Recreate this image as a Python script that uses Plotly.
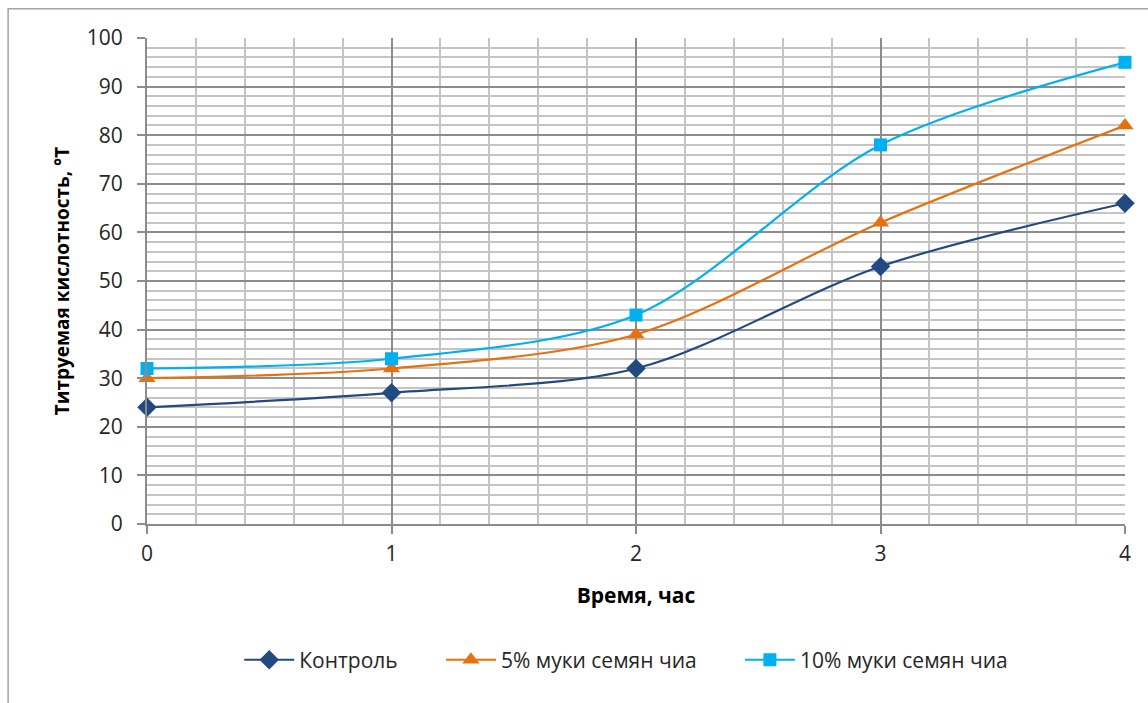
import plotly.graph_objects as go

hours = [0, 1, 2, 3, 4]
control = [24, 27, 32, 53, 66]
chia5 = [30, 32, 39, 62, 82]
chia10 = [32, 34, 43, 78, 95]

names = ["Контроль", "5% муки семян чиа", "10% муки семян чиа"]
colors = ["#234A80", "#E8700E", "#00B0F0"]
symbols = ["diamond", "triangle-up", "square"]
sizes = [15, 15, 13]
series = [control, chia5, chia10]

FONT = "Open Sans"
PAD = "\u00a0" * 7

fig = go.Figure()
for i, (name, vals, col, sym, sz) in enumerate(zip(names, series, colors, symbols, sizes)):
    fig.add_trace(go.Scatter(
        x=hours, y=vals, name=name + (PAD if i < 2 else ""), mode="lines+markers",
        line=dict(color=col, width=2.2, shape="spline", smoothing=0.9),
        marker=dict(symbol=sym, size=sz, color=col),
        cliponaxis=False,
    ))

fig.update_layout(
    width=1148, height=703,
    margin=dict(l=147, r=23, t=38, b=179),
    paper_bgcolor="white", plot_bgcolor="white",
    font=dict(family=FONT, size=21, color="#262626"),
    showlegend=True,
    legend=dict(orientation="h", x=0.49, xanchor="center", y=-0.28, yanchor="middle",
                font=dict(size=21, family=FONT, color="#262626"),
                itemwidth=50, tracegroupgap=0),
    shapes=[dict(type="rect", xref="paper", yref="paper", x0=-0.142, x1=1.2, y0=-0.56, y1=1.06,
                 line=dict(color="#A6A69A", width=1.5), layer="below")],
)

fig.update_xaxes(
    range=[0, 4], dtick=1, tick0=0,
    showgrid=True, gridcolor="#8C8C8C", gridwidth=2,
    minor=dict(dtick=0.2, showgrid=True, gridcolor="#C4C4C4", gridwidth=2),
    showline=True, linecolor="#8C8C8C", linewidth=2,
    ticks="outside", ticklen=8, tickcolor="#8C8C8C", tickwidth=2,
    tickfont=dict(size=21, family=FONT, color="#262626"),
    ticklabelstandoff=2,
    zeroline=False,
    title=dict(text="<b>Время, час</b>", font=dict(size=21, family=FONT, color="#000000"), standoff=22),
)
fig.update_yaxes(
    range=[0, 100], dtick=10,
    showgrid=True, gridcolor="#8C8C8C", gridwidth=2,
    minor=dict(dtick=2, showgrid=True, gridcolor="#C4C4C4", gridwidth=2),
    showline=True, linecolor="#8C8C8C", linewidth=2,
    ticks="outside", ticklen=8, tickcolor="#8C8C8C", tickwidth=2,
    tickfont=dict(size=21, family=FONT, color="#262626"),
    ticklabelstandoff=10,
    zeroline=False,
    title=dict(text="<b>Титруемая кислотность, °T</b>", font=dict(size=19, family=FONT, color="#000000"), standoff=12),
)

fig.write_html("out.html")
